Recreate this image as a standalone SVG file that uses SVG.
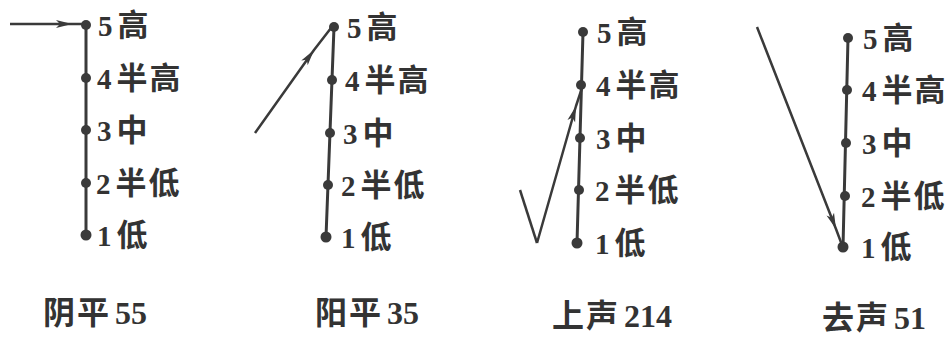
<svg xmlns="http://www.w3.org/2000/svg" width="951" height="337" viewBox="0 0 951 337">
<style>
.axis{stroke:#3a3a3a;stroke-width:3;fill:none;stroke-linecap:round}
.dot{fill:#3a3a3a}
.lbl{font-family:"Liberation Serif","Noto Sans CJK SC",serif;font-size:31px;font-weight:bold;fill:#333333;letter-spacing:2px}
.ttl{font-family:"Liberation Serif","Noto Sans CJK SC",serif;font-size:32px;font-weight:bold;fill:#333333;letter-spacing:2px}
.d{font-size:29px;letter-spacing:0}
.n{font-size:32px;letter-spacing:0}
.arr{stroke:#3a3a3a;stroke-width:2.5;fill:none;stroke-linejoin:round}
</style>
<defs>
<marker id="ah" markerUnits="userSpaceOnUse" markerWidth="18" markerHeight="10" refX="16" refY="5" orient="auto">
<path d="M0 1 L16 5 L0 9 L4 5 z" fill="#3a3a3a"/>
</marker>
</defs>
<rect width="951" height="337" fill="#ffffff"/>

<g id="tone1">
<line class="axis" x1="86" y1="25" x2="86" y2="235"/>
<circle class="dot" cx="86" cy="25" r="5"/><circle class="dot" cx="86" cy="78" r="5"/><circle class="dot" cx="86" cy="130" r="5"/><circle class="dot" cx="86" cy="183" r="5"/><circle class="dot" cx="86" cy="235" r="5.5"/>
<text class="lbl" x="98" y="36"><tspan class="d">5</tspan><tspan dx="5">高</tspan></text>
<text class="lbl" x="97" y="89"><tspan class="d">4</tspan><tspan dx="5">半高</tspan></text>
<text class="lbl" x="97" y="141"><tspan class="d">3</tspan><tspan dx="5">中</tspan></text>
<text class="lbl" x="96" y="194"><tspan class="d">2</tspan><tspan dx="5">半低</tspan></text>
<text class="lbl" x="97" y="246"><tspan class="d">1</tspan><tspan dx="5">低</tspan></text>
<text class="ttl" x="43" y="324">阴平<tspan class="n" dx="4">55</tspan></text>
</g>

<g id="tone2">
<line class="axis" x1="334" y1="27" x2="326" y2="237"/>
<circle class="dot" cx="334" cy="27" r="5"/><circle class="dot" cx="332" cy="80" r="5"/><circle class="dot" cx="330" cy="133" r="5"/><circle class="dot" cx="328" cy="185" r="5"/><circle class="dot" cx="326" cy="237" r="5.5"/>
<text class="lbl" x="347" y="38"><tspan class="d">5</tspan><tspan dx="5">高</tspan></text>
<text class="lbl" x="345" y="91"><tspan class="d">4</tspan><tspan dx="5">半高</tspan></text>
<text class="lbl" x="343" y="144"><tspan class="d">3</tspan><tspan dx="5">中</tspan></text>
<text class="lbl" x="341" y="196"><tspan class="d">2</tspan><tspan dx="5">半低</tspan></text>
<text class="lbl" x="341" y="248"><tspan class="d">1</tspan><tspan dx="5">低</tspan></text>
<text class="ttl" x="315" y="324">阳平<tspan class="n" dx="4">35</tspan></text>
</g>

<g id="tone3">
<line class="axis" x1="583" y1="32" x2="577" y2="243"/>
<circle class="dot" cx="583" cy="32" r="5"/><circle class="dot" cx="581" cy="85" r="5"/><circle class="dot" cx="580" cy="138" r="5"/><circle class="dot" cx="579" cy="190" r="5"/><circle class="dot" cx="577" cy="243" r="5.5"/>
<text class="lbl" x="597" y="43"><tspan class="d">5</tspan><tspan dx="5">高</tspan></text>
<text class="lbl" x="596" y="96"><tspan class="d">4</tspan><tspan dx="5">半高</tspan></text>
<text class="lbl" x="596" y="149"><tspan class="d">3</tspan><tspan dx="5">中</tspan></text>
<text class="lbl" x="595" y="201"><tspan class="d">2</tspan><tspan dx="5">半低</tspan></text>
<text class="lbl" x="595" y="254"><tspan class="d">1</tspan><tspan dx="5">低</tspan></text>
<text class="ttl" x="552" y="327">上声<tspan class="n" dx="4">214</tspan></text>
</g>

<g id="tone4">
<line class="axis" x1="848" y1="38" x2="843" y2="247"/>
<circle class="dot" cx="848" cy="38" r="5"/><circle class="dot" cx="847" cy="90" r="5"/><circle class="dot" cx="846" cy="143" r="5"/><circle class="dot" cx="845" cy="196" r="5"/><circle class="dot" cx="843" cy="247" r="5.5"/>
<text class="lbl" x="863" y="49"><tspan class="d">5</tspan><tspan dx="5">高</tspan></text>
<text class="lbl" x="862" y="101"><tspan class="d">4</tspan><tspan dx="5">半高</tspan></text>
<text class="lbl" x="862" y="154"><tspan class="d">3</tspan><tspan dx="5">中</tspan></text>
<text class="lbl" x="861" y="207"><tspan class="d">2</tspan><tspan dx="5">半低</tspan></text>
<text class="lbl" x="861" y="258"><tspan class="d">1</tspan><tspan dx="5">低</tspan></text>
<text class="ttl" x="822" y="329">去声<tspan class="n" dx="4">51</tspan></text>
</g>

<g id="connectors">
<path class="arr" d="M10 24 L72 24 L84 24" marker-mid="url(#ah)"/>
<path class="arr" d="M255 133 L314 50 L331 28" marker-mid="url(#ah)"/>
<path class="arr" d="M520 190 L537 243"/>
<path class="arr" d="M537 243 L576 106 L582 88" marker-mid="url(#ah)"/>
<path class="arr" d="M757 27 L836 229 L842 245" marker-mid="url(#ah)"/>
</g>
</svg>
